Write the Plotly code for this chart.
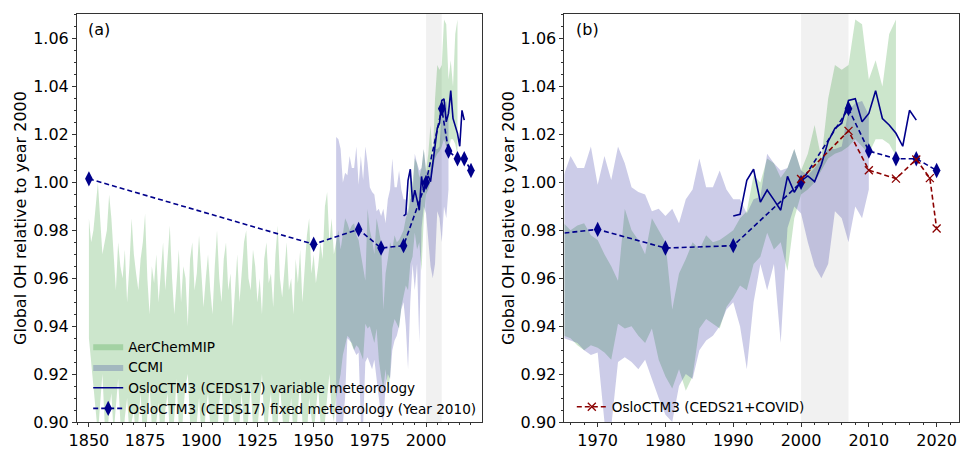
import plotly.graph_objects as go

# ---------------- data ----------------
aer_years = list(range(1850, 2015))
aer_hi = [
    0.985, 0.975, 0.980, 0.990, 1.000, 0.985, 0.970, 0.975, 0.980, 0.995,
    0.985, 0.970, 0.955, 0.975, 0.965, 0.960, 0.972, 0.950, 0.965, 0.985,
    0.970, 0.962, 0.955, 0.968, 0.975, 0.987, 0.960, 0.945, 0.965, 0.958,
    0.970, 0.950, 0.962, 0.975, 0.955, 0.968, 0.982, 0.960, 0.945, 0.958,
    0.972, 0.950, 0.965, 0.960, 0.940, 0.968, 0.975, 0.955, 0.962, 0.978,
    0.965, 0.948, 0.960, 0.970, 0.955, 0.945, 0.965, 0.980, 0.960, 0.950,
    0.968, 0.975, 0.955, 0.962, 0.940, 0.958, 0.970, 0.950, 0.965, 0.975,
    0.980, 0.960, 0.955, 0.972, 0.965, 0.950, 0.960, 0.945, 0.968, 0.975,
    0.958, 0.962, 0.948, 0.970, 0.982, 0.960, 0.952, 0.965, 0.975, 0.955,
    0.960, 0.945, 0.968, 0.958, 0.972, 0.950, 0.965, 0.978, 0.985, 0.962,
    0.970, 0.958, 0.965, 0.975, 0.968, 0.990, 0.996, 0.975, 0.985, 0.970,
    0.975, 0.980, 0.972, 0.978, 0.985, 0.983, 0.980, 0.982, 0.983, 0.978,
    0.976, 0.970, 0.965, 0.959, 0.989, 0.980, 0.976, 0.970, 0.985, 0.980,
    0.975, 0.947, 0.962, 0.968, 0.975, 0.972, 0.978, 0.975, 0.976, 0.978,
    0.980, 0.985, 0.988, 1.003, 1.000, 1.010, 1.008, 1.002, 1.006, 1.014,
    1.005, 1.012, 1.024, 1.010, 1.035, 1.049, 1.047, 1.049, 1.068, 1.066,
    1.043, 1.051, 1.040, 1.062, 1.068,
]
aer_lo = [
    0.935, 0.928, 0.915, 0.905, 0.895, 0.908, 0.920, 0.900, 0.890, 0.905,
    0.912, 0.895, 0.905, 0.918, 0.900, 0.888, 0.902, 0.910, 0.895, 0.900,
    0.905, 0.890, 0.900, 0.912, 0.895, 0.885, 0.903, 0.915, 0.898, 0.890,
    0.900, 0.908, 0.892, 0.885, 0.905, 0.912, 0.895, 0.890, 0.902, 0.918,
    0.898, 0.888, 0.905, 0.915, 0.920, 0.900, 0.890, 0.885, 0.900, 0.910,
    0.895, 0.890, 0.905, 0.912, 0.898, 0.886, 0.900, 0.893, 0.908, 0.915,
    0.900, 0.888, 0.895, 0.910, 0.905, 0.890, 0.885, 0.900, 0.912, 0.896,
    0.890, 0.903, 0.915, 0.898, 0.887, 0.895, 0.908, 0.920, 0.900, 0.890,
    0.905, 0.912, 0.895, 0.888, 0.900, 0.915, 0.905, 0.892, 0.885, 0.900,
    0.910, 0.895, 0.890, 0.905, 0.918, 0.900, 0.888, 0.895, 0.910, 0.902,
    0.895, 0.905, 0.915, 0.900, 0.890, 0.898, 0.910, 0.920, 0.905, 0.900,
    0.910, 0.915, 0.920, 0.928, 0.932, 0.936, 0.935, 0.932, 0.930, 0.932,
    0.931, 0.929, 0.926, 0.941, 0.939, 0.940, 0.936, 0.933, 0.939, 0.926,
    0.919, 0.914, 0.922, 0.913, 0.919, 0.939, 0.943, 0.941, 0.939, 0.948,
    0.952, 0.957, 0.955, 0.966, 0.969, 0.979, 0.972, 0.975, 0.963, 0.985,
    0.995, 0.997, 1.000, 1.005, 1.010, 1.012, 1.013, 1.015, 1.018, 1.015,
    1.012, 1.018, 1.018, 1.016, 1.011,
]

ccmi_years = list(range(1960, 2011))
ccmi_hi = [
    1.019, 1.018, 1.014, 1.000, 1.004, 1.003, 1.011, 1.006, 1.006, 1.015,
    0.999, 1.011, 1.001, 1.015, 1.008, 0.998, 0.996, 0.995, 0.988, 0.989,
    0.986, 0.989, 0.983, 0.993, 0.997, 1.010, 0.998, 0.998, 1.005, 0.997,
    0.993, 0.993, 0.987, 0.993, 0.994, 1.012, 1.008, 1.005, 1.006, 1.014,
    1.005, 1.003, 1.006, 1.010, 1.014, 1.014, 1.015, 1.030, 1.033, 1.034,
    1.028,
]
ccmi_lo = [
    0.885, 0.890, 0.888, 0.895, 0.910, 0.935, 0.934, 0.933, 0.930, 0.928,
    0.929, 0.900, 0.898, 0.925, 0.927, 0.925, 0.922, 0.926, 0.918, 0.910,
    0.903, 0.900, 0.915, 0.920, 0.918, 0.930, 0.934, 0.936, 0.940, 0.947,
    0.950, 0.940, 0.922, 0.950, 0.966, 0.955, 0.966, 0.933, 0.981, 0.990,
    0.987, 0.975, 0.965, 0.960, 0.966, 0.988, 0.985, 0.975, 0.990, 0.985,
    0.997,
]

var_years = list(range(1990, 2018))
var_vals = [
    0.986, 0.9867, 1.0009, 1.0055, 0.9918, 0.9968, 0.9927, 0.9884, 1.0025, 0.9959,
    1.0007, 1.0027, 1.0003, 1.0075, 1.0171, 1.0226, 1.0247, 1.0342, 1.0349, 1.0253,
    1.0288, 1.0383, 1.0267, 1.0240, 1.0205, 1.0151, 1.0301, 1.0260,
]

fix_years = [1850, 1950, 1970, 1980, 1990, 2000, 2007, 2010, 2014, 2017, 2020]
fix_vals = [1.0015, 0.9742, 0.9804, 0.9726, 0.9736, 1.0000, 1.0308, 1.0131, 1.0099, 1.0099, 1.0050]

covid_years = [2000, 2007, 2010, 2014, 2017, 2019, 2020]
covid_vals = [1.0014, 1.0215, 1.0051, 1.0016, 1.0096, 1.0018, 0.9808]

y_ticks = [0.90, 0.92, 0.94, 0.96, 0.98, 1.00, 1.02, 1.04, 1.06]
xa_ticks = [1850, 1875, 1900, 1925, 1950, 1975, 2000, 2025]
xb_ticks = [1970, 1980, 1990, 2000, 2010, 2020]

# ---------------- styles ----------------
GREEN = "rgba(0,128,0,0.2)"
PURPLE = "rgba(0,0,139,0.2)"
NAVY = "#00008b"
DARKRED = "#8b0000"
FONT = "DejaVu Sans"

fig = go.Figure()


def band(xs, hi, lo, color, name, xa, ya, show, legend):
    fig.add_trace(go.Scatter(
        x=list(xs) + list(xs)[::-1], y=list(hi) + list(lo)[::-1],
        fill="toself", fillcolor=color, line=dict(width=0), mode="lines",
        name=name, xaxis=xa, yaxis=ya, showlegend=show, legend=legend,
        hoverinfo="skip"))


for xa, ya, lg, show in [("x", "y", "legend", True), ("x2", "y2", "legend2", False)]:
    band(aer_years, aer_hi, aer_lo, GREEN, "AerChemMIP", xa, ya, show, lg)
    band(ccmi_years, ccmi_hi, ccmi_lo, PURPLE, "CCMI", xa, ya, show, lg)
    fig.add_trace(go.Scatter(
        x=var_years, y=var_vals, mode="lines", line=dict(color=NAVY, width=1.6),
        name="OsloCTM3 (CEDS17) variable meteorology", xaxis=xa, yaxis=ya,
        showlegend=show, legend=lg))
    fig.add_trace(go.Scatter(
        x=fix_years, y=fix_vals, mode="lines+markers",
        line=dict(color=NAVY, width=1.6, dash="5px,3px"),
        marker=dict(symbol="diamond-tall", size=11, color=NAVY),
        name="OsloCTM3 (CEDS17) fixed meteorology (Year 2010)", xaxis=xa, yaxis=ya,
        showlegend=show, legend=lg))

fig.add_trace(go.Scatter(
    x=covid_years, y=covid_vals, mode="lines+markers",
    line=dict(color=DARKRED, width=1.6, dash="5px,3px"),
    marker=dict(symbol="x-thin-open", size=8, color=DARKRED,
                line=dict(color=DARKRED, width=1.3)),
    name="OsloCTM3 (CEDS21+COVID)", xaxis="x2", yaxis="y2",
    showlegend=True, legend="legend2"))

for xr, yr in [("x", "y domain"), ("x2", "y2 domain")]:
    fig.add_shape(type="rect", x0=2000, x1=2007, xref=xr, yref=yr,
                  y0=0, y1=1, fillcolor="rgba(0,0,0,0.055)", line_width=0, layer="below")

axis_common = dict(showline=True, mirror=True, linecolor="#333333", linewidth=1,
                   ticks="outside", ticklen=4, tickcolor="#333333", showgrid=False,
                   zeroline=False, tickfont=dict(size=16, family=FONT, color="black"))

W, H = 961, 451
L, R, T, B = 77, 1, 14, 23
pw = W - L - R
dom_a = [0, (482 - L) / pw]
dom_b = [(565 - L) / pw, 1.0]

yaxis_common = dict(axis_common, range=[0.90, 1.0703], tickvals=y_ticks,
                    tickformat=".2f",
                    minor=dict(ticks="outside", ticklen=2, dtick=0.005, tick0=0.90,
                               tickcolor="#333333"),
                    title=dict(text="Global OH relative to year 2000",
                               font=dict(size=16, family=FONT, color="black"),
                               standoff=2))

fig.update_layout(
    width=W, height=H, margin=dict(l=L, r=R, t=T, b=B),
    paper_bgcolor="white", plot_bgcolor="white",
    font=dict(family=FONT, color="black"),
    xaxis=dict(axis_common, domain=dom_a, range=[1844.7, 2024.7], tickvals=xa_ticks,
               minor=dict(ticks="outside", ticklen=2, dtick=5, tick0=1850, tickcolor="#333333"),
               anchor="y"),
    yaxis=dict(yaxis_common, anchor="x"),
    xaxis2=dict(axis_common, domain=dom_b, range=[1965.1, 2023.3], tickvals=xb_ticks,
                minor=dict(ticks="outside", ticklen=2, dtick=2, tick0=1970, tickcolor="#333333"),
                anchor="y2"),
    yaxis2=dict(yaxis_common, anchor="x2"),
    legend=dict(x=0.0127, y=0.223, xanchor="left", yanchor="top",
                bgcolor="rgba(0,0,0,0)", font=dict(size=13.6, family=FONT, color="black"),
                tracegroupgap=0),
    legend2=dict(x=0.561, y=0.075, xanchor="left", yanchor="top",
                 bgcolor="rgba(0,0,0,0)", font=dict(size=13.6, family=FONT, color="black")),
    annotations=[
        dict(text="(a)", xref="x domain", yref="y domain", x=0.022, y=0.961,
             xanchor="left", yanchor="middle", showarrow=False,
             font=dict(size=16, family=FONT, color="black")),
        dict(text="(b)", xref="x2 domain", yref="y2 domain", x=0.025, y=0.961,
             xanchor="left", yanchor="middle", showarrow=False,
             font=dict(size=16, family=FONT, color="black")),
    ],
)

fig.write_html("out.html", config={"displayModeBar": False},
               post_script="document.body.style.margin='0';document.body.style.overflow='hidden';")
